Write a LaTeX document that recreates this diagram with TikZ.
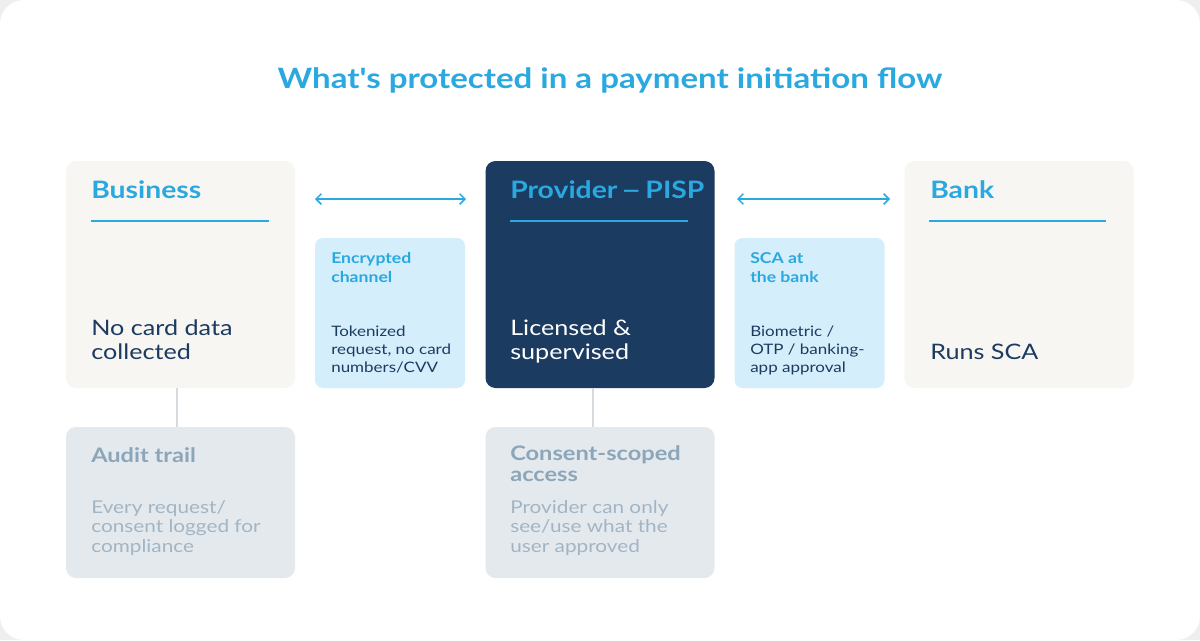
\documentclass[tikz,border=0pt]{standalone}
\usepackage{fontspec}
\setmainfont{Lato}[FakeStretch=1.18,Ligatures=TeXOff]
\usepackage{xcolor}
\usepackage{graphicx}
\usetikzlibrary{arrows.meta}
\definecolor{skyblue}{HTML}{2AA8E0}
\definecolor{navy}{HTML}{1C3B60}
\definecolor{cream}{HTML}{F8F6F2}
\definecolor{icyblue}{HTML}{D5EEFB}
\definecolor{mist}{HTML}{E4E9EE}
\definecolor{misthead}{HTML}{8CA6B9}
\definecolor{mistbody}{HTML}{A2B5C4}
\definecolor{linkgray}{HTML}{D6DBE0}
\definecolor{pagegray}{HTML}{EFEFEF}

\begin{document}
\begin{tikzpicture}[x=0.75pt,y=-0.75pt,
  card/.style={rounded corners=7.5pt,inner sep=0pt,outer sep=0pt,
               minimum width=171.75pt,minimum height=170.25pt},
  sidecard/.style={rounded corners=6pt,inner sep=0pt,outer sep=0pt,fill=icyblue,
               minimum width=112.5pt,minimum height=112.5pt},
  notecard/.style={rounded corners=7.5pt,inner sep=0pt,outer sep=0pt,fill=mist,
               minimum width=171.75pt,minimum height=113.25pt},
  head/.style={anchor=north west,inner sep=0pt,text=skyblue,
               font=\fontsize{18}{21}\selectfont\bfseries},
  big/.style={anchor=north west,inner sep=0pt,align=left,
              font=\fontsize{16}{17.5}\selectfont},
  sidehead/.style={anchor=north west,inner sep=0pt,align=left,text=skyblue,
              font=\fontsize{11.2}{14.3}\selectfont\bfseries},
  sidetext/.style={anchor=north west,inner sep=0pt,align=left,text=navy,
              font=\fontsize{10.8}{13.4}\selectfont},
  notehead/.style={anchor=north west,inner sep=0pt,align=left,text=misthead,
              font=\fontsize{15}{15.8}\selectfont\bfseries},
  notetext/.style={anchor=north west,inner sep=0pt,align=left,text=mistbody,
              font=\fontsize{13.2}{14.6}\selectfont},
  rule/.style={skyblue,line width=1.1pt},
  arr/.style={{Straight Barb[length=4pt,width=8pt]}-{Straight Barb[length=4pt,width=8pt]},
              skyblue,line width=1.1pt},
  link/.style={linkgray,line width=0.9pt}]

  % page
  \fill[pagegray] (0,0) rectangle (1200,640);
  \fill[white,rounded corners=18pt] (0,0) rectangle (1200,640);

  \node[inner sep=0pt,text=skyblue,font=\fontsize{21}{24}\selectfont\bfseries]
    (title) at (610,80) {What's protected in a payment initiation flow};

  % main cards
  \node[card,fill=cream] (biz)  at (180.5,274.5) {};
  \node[card,fill=navy]  (pisp) at (600,274.5)   {};
  \node[card,fill=cream] (bank) at (1019,274.5)  {};
  \node[sidecard] (enc) at (390,313) {};
  \node[sidecard] (sca) at (809.5,313) {};

  % notes below
  \node[notecard] (audit)   at (180.5,502.5) {};
  \node[notecard] (consent) at (600,502.5)   {};

  \draw[link] (177,388) coordinate (l1) -- (177,427) coordinate (l2);
  \draw[link] (593,388) coordinate (l3) -- (593,427) coordinate (l4);

  % arrows between the cards
  \coordinate (a1) at (315,199); \coordinate (a2) at (466,199);
  \coordinate (a3) at (737,199); \coordinate (a4) at (890,199);
  \draw[arr] (a1) -- (a2);
  \draw[arr] (a3) -- (a4);

  % card texts
  \node[head] (bizh) at (91,180) {Business};
  \draw[rule] (91,221) -- (269,221);
  \node[big,text=navy] (bizt) at (91,320) {No card data\\collected};

  \node[head] (pisph) at (510,180)
    {Provider\hspace{-1pt} \scalebox{0.75}[1]{—} \hspace{-1pt}PISP};
  \draw[rule] (510,221) -- (688,221);
  \node[big,text=white] (pispt) at (510,320) {Licensed \&\\supervised};

  \node[head] (bankh) at (930,180) {Bank};
  \draw[rule] (929,221) -- (1106,221);
  \node[big,text=navy] (bankt) at (930,344) {Runs SCA};

  \node[sidehead] (ench) at (331,252) {Encrypted\\channel};
  \node[sidetext] (enct) at (331,326) {Tokenized\\request, no card\\numbers/CVV};

  \node[sidehead] (scah) at (750,252) {SCA at\\the bank};
  \node[sidetext] (scat) at (750,326) {Biometric /\\OTP / banking-\\app approval};

  \node[notehead] (audith) at (91,447) {Audit trail};
  \node[notetext] (auditt) at (91,500) {Every request/\\consent logged for\\compliance};

  \node[notehead] (consh) at (510,445) {Consent-scoped\\access};
  \node[notetext] (const) at (510,500) {Provider can only\\see/use what the\\user approved};
\end{tikzpicture}
\end{document}
